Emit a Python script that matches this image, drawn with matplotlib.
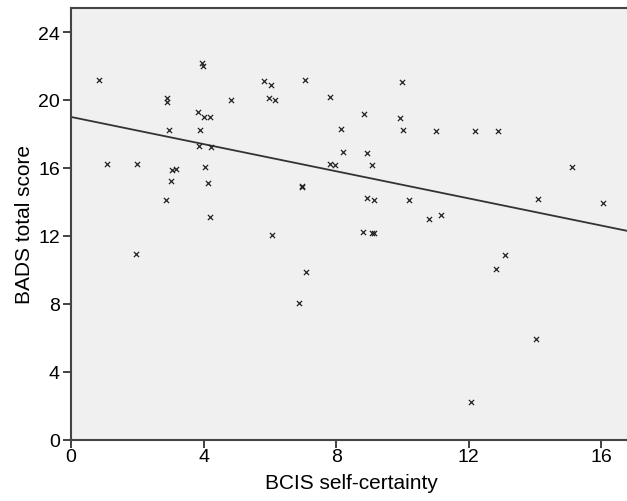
import matplotlib
matplotlib.use("Agg")
import matplotlib.pyplot as plt
import numpy as np

plt.rcParams['font.family'] = ['Liberation Sans', 'DejaVu Sans']

# BCIS self-certainty (x) vs BADS total score (y)
bcis = [0.85, 2.9, 2.9, 3.95, 3.97, 4.84, 3.83, 4.01, 4.19, 2.96, 3.9, 3.86, 4.21,
        1.1, 2.0, 3.06, 3.17, 4.04, 3.02, 4.14, 2.86, 4.19,
        5.82, 6.04, 7.07, 9.99, 5.98, 6.16, 7.82, 8.83, 9.91, 8.14, 10.0, 11.02,
        8.2, 8.92, 7.81, 7.97, 9.09, 6.96, 6.98, 8.93, 9.14, 10.2, 10.81, 11.15,
        6.06, 8.81, 9.07, 9.15,
        12.17, 12.88, 15.11, 14.08, 16.06,
        1.97, 7.08, 6.88, 13.1, 12.82, 14.03, 12.06]
bads = [21.2, 20.1, 19.9, 22.15, 22.0, 20.0, 19.28, 19.0, 18.97, 18.26, 18.26, 17.28, 17.22,
        16.22, 16.22, 15.9, 15.93, 16.05, 15.22, 15.09, 14.1, 13.1,
        21.13, 20.91, 21.2, 21.07, 20.09, 20.01, 20.15, 19.19, 18.95, 18.28, 18.25, 18.17,
        16.95, 16.89, 16.25, 16.19, 16.15, 14.87, 14.92, 14.22, 14.13, 14.13, 13.01, 13.2,
        12.05, 12.25, 12.15, 12.15,
        18.17, 18.17, 16.05, 14.15, 13.95,
        10.91, 9.89, 8.05, 10.89, 10.07, 5.91, 2.19]

# fitted regression line as drawn in the figure
fit_intercept = 19.0
fit_slope = -0.40

xticks = [0, 4, 8, 12, 16]
yticks = [0, 4, 8, 12, 16, 20, 24]

fig = plt.figure(figsize=(6.27, 5.02), dpi=100)
ax = fig.add_axes([71 / 627, 61.5 / 502, 561 / 627, 431.2 / 502])
ax.set_facecolor('#f0f0f0')

ax.scatter(bcis, bads, marker='x', s=14, color='#222222', linewidths=0.9, zorder=3)

xl = np.array([0, 16.92])
ax.plot(xl, fit_intercept + fit_slope * xl, color='#333333', lw=1.3, zorder=2)

ax.set_xlim(0, 16.92)
ax.set_ylim(0, 25.4)
ax.set_xticks(xticks)
ax.set_yticks(yticks)
ax.tick_params(direction='out', length=6, width=1.3, color='#333333',
               labelsize=14, pad=2)
ax.tick_params(axis='x', pad=0)
for sp in ax.spines.values():
    sp.set_color('#444444')
    sp.set_linewidth(1.5)

ax.set_xlabel('BCIS self-certainty', fontsize=15, labelpad=6)
ax.set_ylabel('BADS total score', fontsize=15, labelpad=3)

fig.savefig('out.png', dpi=100, facecolor='white')
